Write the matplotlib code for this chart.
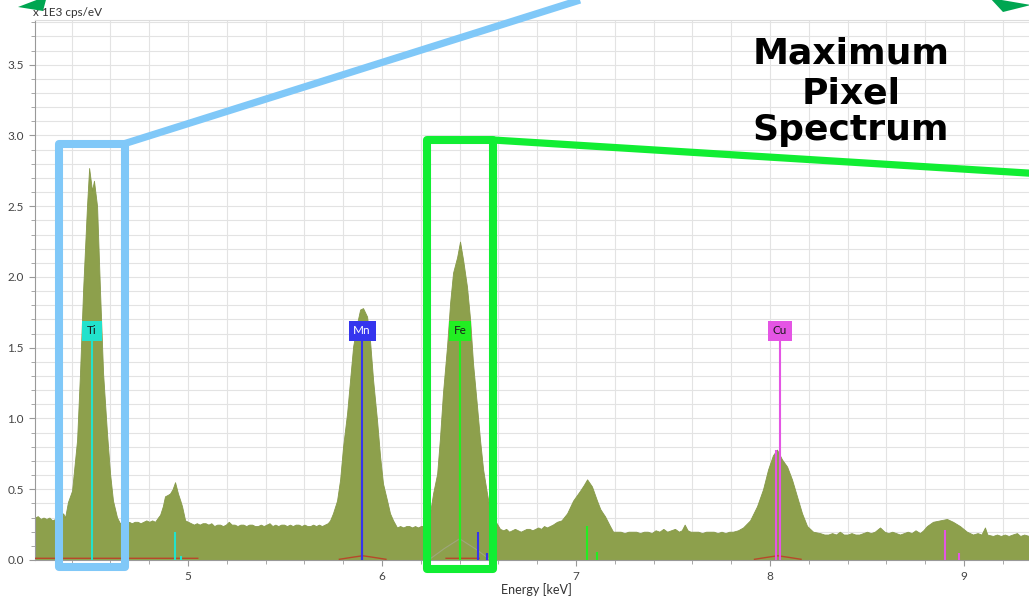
import numpy as np
import matplotlib
matplotlib.use("Agg")
import matplotlib.pyplot as plt
from matplotlib.ticker import MultipleLocator, FormatStrFormatter
from matplotlib.patches import Rectangle, Polygon

# ---------------- data ----------------
energy_kev = [
    4.211, 4.225, 4.240, 4.255, 4.270, 4.285, 4.300, 4.315, 4.330, 4.345,
    4.356, 4.366, 4.381, 4.402, 4.428, 4.443, 4.459, 4.479, 4.490, 4.505,
    4.515, 4.531, 4.546, 4.562, 4.582, 4.598, 4.613, 4.634, 4.649, 4.665,
    4.680, 4.695, 4.710, 4.725, 4.740, 4.755, 4.770, 4.785, 4.800, 4.815,
    4.830, 4.845, 4.856, 4.870, 4.881, 4.895, 4.907, 4.920, 4.933, 4.948,
    4.960, 4.969, 4.985, 5.000, 5.015, 5.030, 5.045, 5.060, 5.075, 5.090,
    5.105, 5.120, 5.135, 5.150, 5.165, 5.180, 5.195, 5.210, 5.225, 5.240,
    5.255, 5.270, 5.285, 5.300, 5.315, 5.330, 5.345, 5.360, 5.375, 5.390,
    5.405, 5.420, 5.435, 5.450, 5.465, 5.480, 5.495, 5.510, 5.525, 5.540,
    5.555, 5.570, 5.585, 5.600, 5.615, 5.630, 5.645, 5.660, 5.675, 5.690,
    5.705, 5.720, 5.732, 5.747, 5.768, 5.784, 5.799, 5.820, 5.835, 5.851,
    5.871, 5.887, 5.902, 5.923, 5.938, 5.954, 5.974, 5.990, 6.005, 6.026,
    6.041, 6.057, 6.077, 6.093, 6.110, 6.125, 6.140, 6.155, 6.170, 6.185,
    6.200, 6.215, 6.230, 6.247, 6.263, 6.284, 6.299, 6.314, 6.335, 6.351,
    6.366, 6.387, 6.402, 6.418, 6.438, 6.454, 6.469, 6.490, 6.505, 6.521,
    6.541, 6.557, 6.582, 6.608, 6.625, 6.640, 6.655, 6.670, 6.685, 6.700,
    6.715, 6.730, 6.745, 6.760, 6.775, 6.790, 6.805, 6.820, 6.835, 6.850,
    6.865, 6.880, 6.902, 6.925, 6.954, 6.985, 7.021, 7.040, 7.057, 7.082,
    7.108, 7.125, 7.139, 7.149, 7.175, 7.191, 7.210, 7.230, 7.250, 7.270,
    7.290, 7.310, 7.330, 7.350, 7.370, 7.390, 7.410, 7.430, 7.450, 7.470,
    7.490, 7.510, 7.530, 7.545, 7.560, 7.575, 7.590, 7.610, 7.630, 7.650,
    7.670, 7.690, 7.710, 7.730, 7.750, 7.770, 7.790, 7.809, 7.835, 7.861,
    7.897, 7.933, 7.964, 7.990, 8.015, 8.036, 8.062, 8.088, 8.113, 8.139,
    8.165, 8.191, 8.222, 8.258, 8.280, 8.300, 8.320, 8.340, 8.360, 8.380,
    8.400, 8.420, 8.440, 8.460, 8.480, 8.500, 8.520, 8.540, 8.567, 8.590,
    8.610, 8.630, 8.650, 8.670, 8.690, 8.710, 8.730, 8.750, 8.773, 8.790,
    8.809, 8.840, 8.876, 8.912, 8.943, 8.979, 9.015, 9.046, 9.070, 9.090,
    9.108, 9.120, 9.149, 9.170, 9.190, 9.210, 9.230, 9.250, 9.273, 9.290,
    9.310, 9.335,
]
counts_k = [
    0.30, 0.31, 0.29, 0.30, 0.29, 0.30, 0.28, 0.29, 0.28, 0.28,
    0.33, 0.30, 0.41, 0.49, 0.85, 1.32, 1.91, 2.50, 2.77, 2.61,
    2.68, 2.50, 1.91, 1.32, 0.90, 0.61, 0.42, 0.30, 0.26, 0.27,
    0.26, 0.27, 0.26, 0.27, 0.27, 0.26, 0.27, 0.28, 0.27, 0.28,
    0.27, 0.30, 0.32, 0.38, 0.45, 0.46, 0.47, 0.50, 0.55, 0.47,
    0.42, 0.38, 0.28, 0.27, 0.26, 0.25, 0.26, 0.25, 0.26, 0.26,
    0.25, 0.26, 0.24, 0.25, 0.25, 0.24, 0.25, 0.27, 0.25, 0.25,
    0.24, 0.25, 0.25, 0.24, 0.25, 0.25, 0.24, 0.24, 0.25, 0.24,
    0.25, 0.26, 0.24, 0.25, 0.24, 0.25, 0.25, 0.24, 0.25, 0.24,
    0.25, 0.25, 0.24, 0.25, 0.24, 0.24, 0.25, 0.24, 0.25, 0.24,
    0.25, 0.26, 0.28, 0.33, 0.42, 0.57, 0.80, 1.04, 1.27, 1.51,
    1.67, 1.77, 1.78, 1.72, 1.55, 1.27, 0.99, 0.73, 0.54, 0.42,
    0.33, 0.28, 0.23, 0.24, 0.23, 0.24, 0.24, 0.23, 0.24, 0.23,
    0.24, 0.24, 0.25, 0.33, 0.47, 0.61, 0.87, 1.18, 1.51, 1.82,
    2.03, 2.14, 2.25, 2.12, 1.93, 1.70, 1.39, 1.08, 0.85, 0.64,
    0.47, 0.35, 0.28, 0.22, 0.21, 0.22, 0.20, 0.21, 0.22, 0.21,
    0.20, 0.21, 0.22, 0.22, 0.21, 0.22, 0.23, 0.22, 0.24, 0.23,
    0.24, 0.25, 0.27, 0.28, 0.33, 0.42, 0.49, 0.53, 0.57, 0.52,
    0.42, 0.36, 0.33, 0.31, 0.24, 0.20, 0.20, 0.20, 0.19, 0.20,
    0.20, 0.20, 0.19, 0.20, 0.20, 0.19, 0.21, 0.20, 0.22, 0.20,
    0.21, 0.22, 0.20, 0.21, 0.25, 0.21, 0.20, 0.20, 0.20, 0.19,
    0.20, 0.20, 0.20, 0.19, 0.20, 0.19, 0.20, 0.20, 0.21, 0.23,
    0.28, 0.38, 0.50, 0.64, 0.74, 0.78, 0.71, 0.66, 0.57, 0.45,
    0.33, 0.24, 0.20, 0.19, 0.18, 0.18, 0.19, 0.18, 0.20, 0.18,
    0.18, 0.19, 0.18, 0.18, 0.19, 0.20, 0.19, 0.20, 0.23, 0.20,
    0.19, 0.20, 0.19, 0.18, 0.19, 0.20, 0.19, 0.21, 0.19, 0.21,
    0.24, 0.27, 0.28, 0.29, 0.27, 0.24, 0.20, 0.18, 0.19, 0.18,
    0.23, 0.18, 0.17, 0.18, 0.17, 0.18, 0.17, 0.18, 0.19, 0.17,
    0.18, 0.17,
]

# element marker lines
elements = ["Ti", "Mn", "Fe", "Cu"]
element_colors = ["#22e2cc", "#3535ee", "#22ee22", "#e455e4"]
element_text_colors = ["#1a1a1a", "#ffffff", "#1a1a1a", "#1a1a1a"]
label_energy = [4.505, 5.897, 6.402, 8.050]
label_level = 1.62
line_energy = {
    "Ti": [4.505, 4.933, 4.964],
    "Mn": [5.897, 5.897, 6.495, 6.541],
    "Fe": [6.402, 6.402, 7.057, 7.108],
    "Cu": [8.050, 8.030, 8.900, 8.974],
}
line_height = {
    "Ti": [1.56, 0.20, 0.03],
    "Mn": [1.56, 0.78, 0.20, 0.05],
    "Fe": [1.56, 0.78, 0.24, 0.06],
    "Cu": [1.56, 0.78, 0.21, 0.05],
}

# fitted background / deconvolution traces near the baseline
fit_energy = [4.211, 5.05, np.nan, 5.78, 5.85, 5.90, 5.95, 6.02, np.nan,
              6.33, 6.50, np.nan, 7.92, 7.99, 8.04, 8.09, 8.16]
fit_value = [0.012, 0.012, np.nan, 0.005, 0.02, 0.03, 0.02, 0.005, np.nan,
             0.012, 0.012, np.nan, 0.005, 0.02, 0.03, 0.02, 0.005]
fe_fit_energy = [6.25, 6.32, 6.40, 6.48, 6.55]
fe_fit_value = [0.01, 0.08, 0.15, 0.08, 0.01]

x_ticks = [5, 6, 7, 8, 9]
y_ticks = [0.0, 0.5, 1.0, 1.5, 2.0, 2.5, 3.0, 3.5]

# ---------------- figure ----------------
W, H = 1029, 598
fig = plt.figure(figsize=(W / 100, H / 100), dpi=100)
fig.patch.set_facecolor("white")

ax = fig.add_axes([35 / W, 38 / H, 1 - 35 / W, (560 - 20) / H])
ax.set_xlim(4.211, 9.335)
ax.set_ylim(0, 3.816)

ax.fill_between(energy_kev, 0, counts_k, color="#8da04c", lw=0.6,
                edgecolor="#86994a", zorder=2)

ax.plot(fit_energy, fit_value, color="#b8482a", lw=1.0, zorder=3)
ax.plot(fe_fit_energy, fe_fit_value, color="#a5a890", lw=0.8, alpha=0.7, zorder=3)

for el, col, tcol, le in zip(elements, element_colors, element_text_colors, label_energy):
    for e, h in zip(line_energy[el], line_height[el]):
        ax.plot([e, e], [0, h], color=col, lw=1.5, zorder=4, solid_capstyle="butt")
    ax.text(le, label_level, el, ha="center", va="center", fontsize=8.5,
            color=tcol, family="Lato", zorder=5,
            bbox=dict(boxstyle="square,pad=0.4", fc=col, ec="none"))

ax.set_xticks(x_ticks)
ax.xaxis.set_minor_locator(MultipleLocator(0.2))
ax.set_yticks(y_ticks)
ax.yaxis.set_minor_locator(MultipleLocator(0.1))
ax.yaxis.set_major_formatter(FormatStrFormatter("%.1f"))
ax.grid(which="both", color="#e3e3e3", lw=0.8)
ax.set_axisbelow(True)
ax.tick_params(axis="both", which="major", labelsize=8.5, colors="#444444",
               length=4, direction="out", pad=4)
ax.tick_params(axis="both", which="minor", length=3, color="#999999")
ax.tick_params(axis="both", which="major", color="#999999")
for lab in ax.get_xticklabels() + ax.get_yticklabels():
    lab.set_family("Lato")
ax.spines["right"].set_visible(False)
ax.spines["left"].set_color("#999999")
ax.spines["bottom"].set_color("#999999")
ax.spines["top"].set_color("#dddddd")

fig.text(33 / W, 1 - 12 / H, "x 1E3 cps/eV", fontsize=8.5, color="#333333",
         ha="left", va="center", family="Lato")
fig.text(536 / W, 1 - 590 / H, "Energy [keV]", fontsize=9, color="#333333",
         ha="center", va="center", family="Lato")

# ---------------- overlay annotations (pixel coordinates) ----------------
ov = fig.add_axes([0, 0, 1, 1])
ov.set_xlim(0, W)
ov.set_ylim(H, 0)
ov.axis("off")
ov.patch.set_alpha(0)

blue = "#80c8f8"
green = "#11ee33"
ov.add_patch(Rectangle((59, 143.5), 125 - 59, 567 - 143.5, fill=False,
                       ec=blue, lw=5.8, joinstyle="round"))
ov.plot([125, 580], [143.5, 0], color=blue, lw=5.2, solid_capstyle="butt")
ov.add_patch(Rectangle((427, 140), 493 - 427, 569 - 140, fill=False,
                       ec=green, lw=5.8, joinstyle="round"))
ov.plot([493, 1035], [140, 173.5], color=green, lw=5.2, solid_capstyle="butt")

dgreen = "#00a651"
ov.add_patch(Polygon([(18, 7), (47, -4), (43, 11)], closed=True, fc=dgreen, ec="none"))
ov.add_patch(Polygon([(990, -2), (1031, 5), (1003, 12)], closed=True, fc=dgreen, ec="none"))

for txt, yb in zip(["Maximum", "Pixel", "Spectrum"], [63, 103, 140]):
    ov.text(851, yb, txt, ha="center", va="baseline", fontsize=26,
            fontweight="bold", family="DejaVu Sans", color="black")

fig.savefig("out.png", dpi=100)
